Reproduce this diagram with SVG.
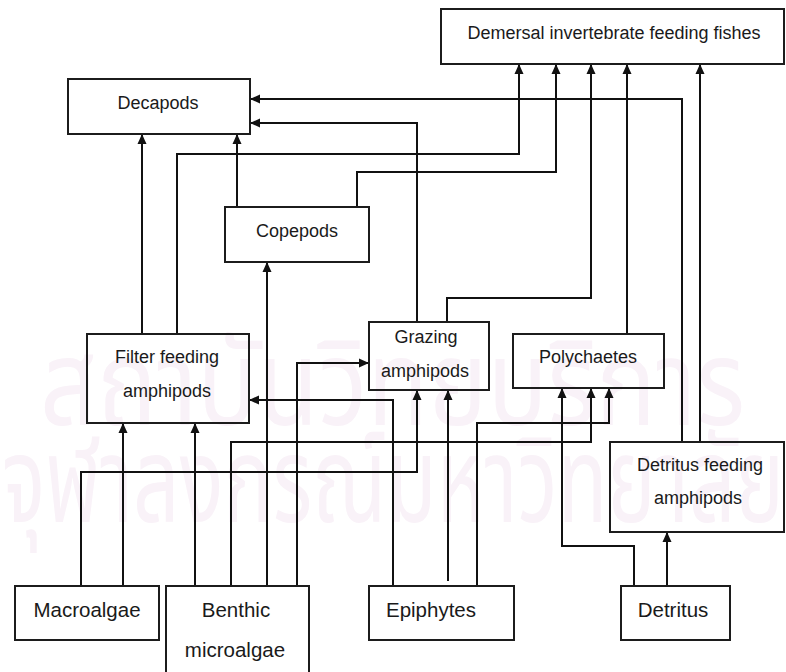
<svg xmlns="http://www.w3.org/2000/svg" width="786" height="672" viewBox="0 0 786 672">
  <defs>
    <marker id="arrow" markerUnits="userSpaceOnUse" markerWidth="11" markerHeight="10" refX="10" refY="5" orient="auto">
      <path d="M0,0.5 L10,5 L0,9.5 z" fill="#111"/>
    </marker>
    <style>
      .box { fill: none; stroke: #1c1c1c; stroke-width: 2; }
      .lbl { font-family: "Liberation Sans", Arial, sans-serif; font-size: 18px; fill: #1a1a1a; text-anchor: middle; }
      .src { font-size: 20.5px; }
      .edge { fill: none; stroke: #111; stroke-width: 2; marker-end: url(#arrow); }
      .wm { font-family: "Noto Sans Thai", "Noto Sans", "DejaVu Sans", sans-serif; fill: #f9f2f8; }
    </style>
  </defs>

  <rect width="786" height="672" fill="#ffffff"/>

  <!-- faint background watermark -->
  <g id="watermark">
    <text class="wm" x="40" y="425" font-size="120" textLength="705" lengthAdjust="spacingAndGlyphs">สถาบันวิทยบริการ</text>
    <text class="wm" x="2" y="522" font-size="120" textLength="782" lengthAdjust="spacingAndGlyphs">จุฬาลงกรณ์มหาวิทยาลัย</text>
  </g>

  <!-- connectors -->
  <g id="connectors">
    <path class="edge" d="M177,334 V154 H519 V64"/>
    <path class="edge" d="M357,207 V172 H556 V64"/>
    <path class="edge" d="M447,322 V298 H591 V64"/>
    <path class="edge" d="M627,334 V64"/>
    <path class="edge" d="M700,442 V64"/>
    <path class="edge" d="M682,442 V99 H250"/>
    <path class="edge" d="M417,322 V123 H250"/>
    <path class="edge" d="M142,334 V134"/>
    <path class="edge" d="M237,207 V134"/>
    <path class="edge" d="M267,586 V262"/>
    <path class="edge" d="M123,586 V423"/>
    <path class="edge" d="M195,586 V423"/>
    <path class="edge" d="M393,586 V400 H249"/>
    <path class="edge" d="M297,586 V363 H369"/>
    <path class="edge" d="M81,586 V472 H417 V390"/>
    <path class="edge" d="M448,581 V390"/>
    <path class="edge" d="M634,586 V546 H562 V388"/>
    <path class="edge" d="M231,586 V442 H591 V388"/>
    <path class="edge" d="M477,586 V423 H609 V388"/>
    <path class="edge" d="M667,586 V532"/>
  </g>

  <g id="demersal-fishes">
    <rect class="box" x="441" y="9" width="343" height="55"/>
    <text class="lbl" x="614" y="39">Demersal invertebrate feeding fishes</text>
  </g>
  <g id="decapods">
    <rect class="box" x="68" y="79" width="182" height="55"/>
    <text class="lbl" x="158" y="109">Decapods</text>
  </g>
  <g id="copepods">
    <rect class="box" x="225" y="207" width="144" height="55"/>
    <text class="lbl" x="297" y="237">Copepods</text>
  </g>
  <g id="filter-feeding-amphipods">
    <rect class="box" x="87" y="334" width="162" height="89"/>
    <text class="lbl" x="167" y="363">Filter feeding</text>
    <text class="lbl" x="167" y="397">amphipods</text>
  </g>
  <g id="grazing-amphipods">
    <rect class="box" x="369" y="322" width="120" height="68"/>
    <text class="lbl" x="426" y="343">Grazing</text>
    <text class="lbl" x="425" y="377">amphipods</text>
  </g>
  <g id="polychaetes">
    <rect class="box" x="513" y="334" width="151" height="54"/>
    <text class="lbl" x="588" y="363">Polychaetes</text>
  </g>
  <g id="detritus-feeding-amphipods">
    <rect class="box" x="610" y="442" width="174" height="90"/>
    <text class="lbl" x="700" y="471">Detritus feeding</text>
    <text class="lbl" x="698" y="504">amphipods</text>
  </g>
  <g id="macroalgae">
    <rect class="box" x="15" y="586" width="144" height="54"/>
    <text class="lbl src" x="87" y="617">Macroalgae</text>
  </g>
  <g id="benthic-microalgae">
    <rect class="box" x="166" y="586" width="143" height="100"/>
    <text class="lbl src" x="236" y="617">Benthic</text>
    <text class="lbl src" x="235" y="657">microalgae</text>
  </g>
  <g id="epiphytes">
    <rect class="box" x="369" y="586" width="145" height="54"/>
    <text class="lbl src" x="431" y="617">Epiphytes</text>
  </g>
  <g id="detritus">
    <rect class="box" x="621" y="586" width="109" height="54"/>
    <text class="lbl src" x="673" y="617">Detritus</text>
  </g>
</svg>
